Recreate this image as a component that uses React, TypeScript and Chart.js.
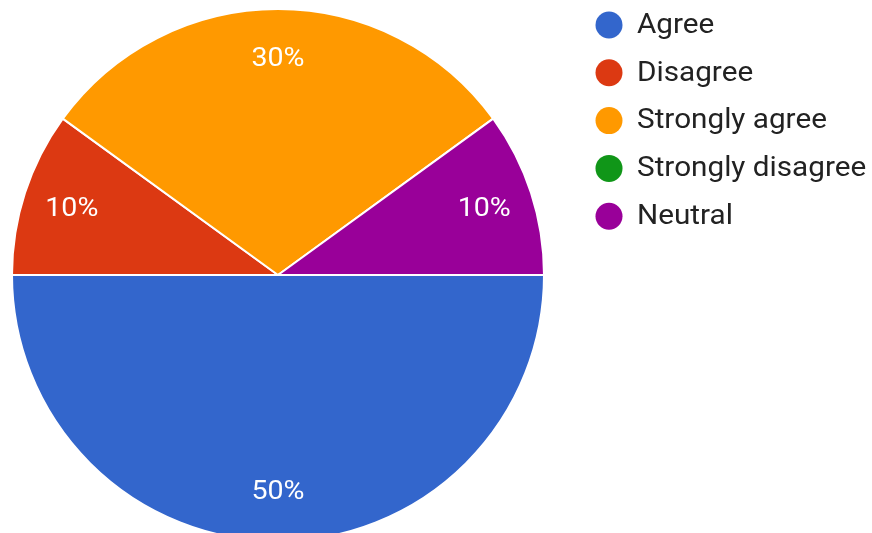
import React, { useEffect, useRef } from "react";
import { Chart, registerables } from "chart.js";

Chart.register(...registerables);

const categories = ["Agree", "Disagree", "Strongly agree", "Strongly disagree", "Neutral"];
const responses = [5, 1, 3, 0, 1];
const colors = ["#3366cc", "#dc3912", "#ff9900", "#109618", "#990099"];

const W = 872;
const H = 550;
const STRETCH = 1.1;

const percentPlugin = {
  id: "percentLabels",
  afterDatasetsDraw(chart: any) {
    const { ctx } = chart;
    const meta = chart.getDatasetMeta(0);
    const data = chart.data.datasets[0].data as number[];
    const total = data.reduce((a, b) => a + b, 0);
    ctx.save();
    ctx.fillStyle = "#ffffff";
    ctx.font = "26px Roboto";
    ctx.textAlign = "center";
    ctx.textBaseline = "middle";
    meta.data.forEach((arc: any, i: number) => {
      const v = data[i];
      if (!v) return;
      const { x, y, startAngle, endAngle, outerRadius } = arc.getProps(
        ["x", "y", "startAngle", "endAngle", "outerRadius"],
        true
      );
      const mid = (startAngle + endAngle) / 2;
      const r = outerRadius * 0.815;
      const pct = Math.round((v / total) * 100) + "%";
      ctx.save();
      ctx.translate(x + Math.cos(mid) * r, y + Math.sin(mid) * r + 1);
      ctx.scale(STRETCH, 1);
      ctx.fillText(pct, 0, 0);
      ctx.restore();
    });
    ctx.restore();
  },
};

const legendPlugin = {
  id: "customLegend",
  afterDraw(chart: any) {
    const { ctx } = chart;
    const labels = chart.data.labels as string[];
    const bg = chart.data.datasets[0].backgroundColor as string[];
    ctx.save();
    ctx.font = "27px Roboto";
    ctx.textBaseline = "middle";
    ctx.textAlign = "left";
    labels.forEach((lab, i) => {
      const cy = 25 + i * 47.8;
      ctx.beginPath();
      ctx.fillStyle = bg[i];
      ctx.arc(609, cy, 13.5, 0, Math.PI * 2);
      ctx.fill();
      ctx.fillStyle = "#222222";
      ctx.save();
      ctx.translate(637, cy + 1);
      ctx.scale(STRETCH, 1);
      ctx.fillText(lab, 0, 0);
      ctx.restore();
    });
    ctx.restore();
  },
};

export default function App() {
  const ref = useRef<HTMLCanvasElement | null>(null);
  useEffect(() => {
    document.body.style.margin = "0";
    if (!ref.current) return;
    const chart = new Chart(ref.current, {
      type: "pie",
      data: {
        labels: categories,
        datasets: [
          {
            data: responses,
            backgroundColor: colors,
            borderColor: "#ffffff",
            borderWidth: 2,
          },
        ],
      },
      options: {
        responsive: false,
        maintainAspectRatio: false,
        animation: false,
        rotation: 90,
        layout: { padding: { left: 11, top: 8, right: W - 545, bottom: H - 542 } },
        plugins: {
          legend: { display: false },
          tooltip: { enabled: false },
        },
      },
      plugins: [percentPlugin, legendPlugin],
    });
    return () => chart.destroy();
  }, []);
  return (
    <div style={{ width: W, height: 533, overflow: "hidden", background: "#fff" }}>
      <canvas ref={ref} width={W} height={H} style={{ width: W, height: H, display: "block" }} />
    </div>
  );
}
